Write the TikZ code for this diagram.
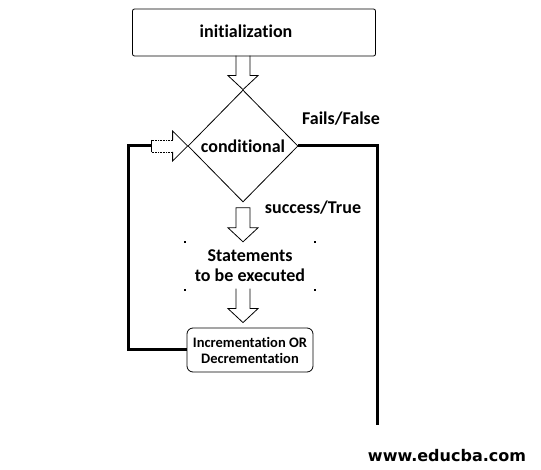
\documentclass[tikz,border=0pt]{standalone}
\usepackage{fontspec}
\setmainfont[Ligatures=NoCommon]{Carlito}
\newfontfamily\webfont{DejaVu Sans}
\usetikzlibrary{shapes.geometric}

\tikzset{
  thinline/.style={line width=0.8pt},
  flowline/.style={line width=3pt},
  txt/.style={font=\fontsize{18}{20}\selectfont\bfseries, align=center},
  smalltxt/.style={font=\fontsize{14.5}{16}\selectfont\bfseries, align=center},
  % hollow arrows, tip at the origin
  block down/.pic={
    \draw[thinline] (-7,-34) -- (-7,-14) -- (-15,-14) -- (0,0) -- (15,-14) -- (7,-14) -- (7,-34);
  },
  block down closed/.pic={
    \draw[thinline] (-7,-34) -- (-7,-14) -- (-15,-14) -- (0,0) -- (15,-14) -- (7,-14) -- (7,-34) -- cycle;
  },
  block right/.pic={
    \draw[thinline, dash pattern=on 0.8pt off 0.8pt] (-36,-6) -- (-15,-6) (-36,6) -- (-15,6);
    \draw[thinline] (-36,-6) -- (-36,6);
    \draw[thinline] (-15,-6) -- (-15,-15) -- (0,0) -- (-15,15) -- (-15,6);
    \coordinate (-tail) at (-36,0);
  }
}

\begin{document}
\begin{tikzpicture}[x=1pt, y=-1pt]
  \useasboundingbox (0,0) rectangle (541,470);

  % Boxes:
  \node[draw, thinline, rounded corners=2pt, minimum width=243pt, minimum height=47pt, txt] (init) at (254,32.5) {\raisebox{3pt}{initialization}\hspace*{16pt}};
  \node[draw, thinline, diamond, minimum width=110pt, minimum height=112pt, inner sep=0pt, txt] (cond) at (243,146) {\makebox[0pt]{\raisebox{-7pt}{conditional}}};
  \node[minimum width=130pt, minimum height=48pt, txt] (stmt) at (250,266) {\raisebox{-2pt}{Statements}\\\raisebox{-2pt}{to be executed}};
  \foreach \c in {north west, north east, south west, south east}
    \fill (stmt.\c) +(-1,-1) rectangle +(1,1);
  \node[draw, thinline, rounded corners=6pt, minimum width=126pt, minimum height=44pt, smalltxt] (incr) at (250,350) {Incrementation OR\\Decrementation};

  % Hollow arrows:
  \pic at (cond.north) {block down};
  \pic at (cond.south |- stmt.north) {block down closed};
  \pic[yshift=5pt] at (cond.south |- incr.north) {block down};
  \pic (back) at (cond.west) {block right};

  % Labels:
  \node[txt] (fails) at (341,119) {Fails/False};
  \node[txt] (true) at (313,208) {success/True};
  \node[font=\webfont\bfseries\fontsize{16}{18}\selectfont] (web) at (447,456) {www.educba.com};

  % Loop and exit lines:
  \coordinate (loopx) at (128,0);
  \coordinate (exitturn) at (377,146);
  \coordinate (exitend) at (377,425);
  \draw[flowline] (incr.west) -- (incr.west -| loopx) |- (back-tail);
  \draw[flowline] (cond.east) -- (exitturn) -- (exitend);
\end{tikzpicture}
\end{document}
